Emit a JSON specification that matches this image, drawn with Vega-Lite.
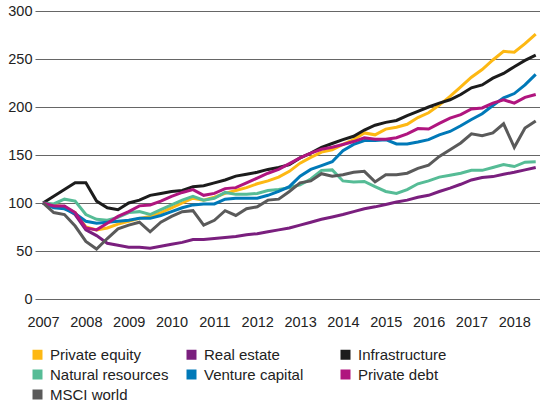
{
  "$schema": "https://vega.github.io/schema/vega-lite/v6.json",
  "width": 505,
  "height": 288,
  "autosize": {"type": "none"},
  "padding": {"left": 35, "top": 11, "right": 0, "bottom": 109},
  "background": "white",
  "config": {
    "view": {"stroke": null},
    "font": "Liberation Sans",
    "axis": {"labelFont": "Liberation Sans", "labelColor": "#222222", "labelFontSize": 14.5},
    "legend": {"labelFont": "Liberation Sans"}
  },
  "datasets": {
    "d": [
      {"t":2007,"s":"Private equity","v":100},{"t":2007.25,"s":"Private equity","v":98},{"t":2007.5,"s":"Private equity","v":96},{"t":2007.75,"s":"Private equity","v":90},
      {"t":2008,"s":"Private equity","v":75},{"t":2008.25,"s":"Private equity","v":72},{"t":2008.5,"s":"Private equity","v":74},{"t":2008.75,"s":"Private equity","v":78},
      {"t":2009,"s":"Private equity","v":81},{"t":2009.25,"s":"Private equity","v":84},{"t":2009.5,"s":"Private equity","v":86},{"t":2009.75,"s":"Private equity","v":90},
      {"t":2010,"s":"Private equity","v":95},{"t":2010.25,"s":"Private equity","v":100},{"t":2010.5,"s":"Private equity","v":105},{"t":2010.75,"s":"Private equity","v":103},
      {"t":2011,"s":"Private equity","v":106},{"t":2011.25,"s":"Private equity","v":110},{"t":2011.5,"s":"Private equity","v":113},{"t":2011.75,"s":"Private equity","v":116},
      {"t":2012,"s":"Private equity","v":120},{"t":2012.25,"s":"Private equity","v":123},{"t":2012.5,"s":"Private equity","v":127},{"t":2012.75,"s":"Private equity","v":133},
      {"t":2013,"s":"Private equity","v":141.5},{"t":2013.25,"s":"Private equity","v":147.5},{"t":2013.5,"s":"Private equity","v":153},{"t":2013.75,"s":"Private equity","v":155.5},
      {"t":2014,"s":"Private equity","v":161},{"t":2014.25,"s":"Private equity","v":166},{"t":2014.5,"s":"Private equity","v":173},{"t":2014.75,"s":"Private equity","v":171},
      {"t":2015,"s":"Private equity","v":177},{"t":2015.25,"s":"Private equity","v":179},{"t":2015.5,"s":"Private equity","v":182},{"t":2015.75,"s":"Private equity","v":189},
      {"t":2016,"s":"Private equity","v":194},{"t":2016.25,"s":"Private equity","v":202},{"t":2016.5,"s":"Private equity","v":211},{"t":2016.75,"s":"Private equity","v":221},
      {"t":2017,"s":"Private equity","v":231},{"t":2017.25,"s":"Private equity","v":239},{"t":2017.5,"s":"Private equity","v":249},{"t":2017.75,"s":"Private equity","v":258},
      {"t":2018,"s":"Private equity","v":257},{"t":2018.25,"s":"Private equity","v":266},{"t":2018.5,"s":"Private equity","v":276},

      {"t":2007,"s":"Real estate","v":100},{"t":2007.25,"s":"Real estate","v":96},{"t":2007.5,"s":"Real estate","v":95},{"t":2007.75,"s":"Real estate","v":88},
      {"t":2008,"s":"Real estate","v":72},{"t":2008.25,"s":"Real estate","v":66},{"t":2008.5,"s":"Real estate","v":58},{"t":2008.75,"s":"Real estate","v":56},
      {"t":2009,"s":"Real estate","v":54},{"t":2009.25,"s":"Real estate","v":54},{"t":2009.5,"s":"Real estate","v":53},{"t":2009.75,"s":"Real estate","v":55},
      {"t":2010,"s":"Real estate","v":57},{"t":2010.25,"s":"Real estate","v":59},{"t":2010.5,"s":"Real estate","v":62},{"t":2010.75,"s":"Real estate","v":62},
      {"t":2011,"s":"Real estate","v":63},{"t":2011.25,"s":"Real estate","v":64},{"t":2011.5,"s":"Real estate","v":65},{"t":2011.75,"s":"Real estate","v":67},
      {"t":2012,"s":"Real estate","v":68},{"t":2012.25,"s":"Real estate","v":70},{"t":2012.5,"s":"Real estate","v":72},{"t":2012.75,"s":"Real estate","v":74},
      {"t":2013,"s":"Real estate","v":77},{"t":2013.25,"s":"Real estate","v":80},{"t":2013.5,"s":"Real estate","v":83},{"t":2013.75,"s":"Real estate","v":85.5},
      {"t":2014,"s":"Real estate","v":88},{"t":2014.25,"s":"Real estate","v":91},{"t":2014.5,"s":"Real estate","v":94},{"t":2014.75,"s":"Real estate","v":96},
      {"t":2015,"s":"Real estate","v":98.5},{"t":2015.25,"s":"Real estate","v":101},{"t":2015.5,"s":"Real estate","v":103},{"t":2015.75,"s":"Real estate","v":106},
      {"t":2016,"s":"Real estate","v":108},{"t":2016.25,"s":"Real estate","v":112},{"t":2016.5,"s":"Real estate","v":115.5},{"t":2016.75,"s":"Real estate","v":119.5},
      {"t":2017,"s":"Real estate","v":124},{"t":2017.25,"s":"Real estate","v":126.5},{"t":2017.5,"s":"Real estate","v":127.5},{"t":2017.75,"s":"Real estate","v":130},
      {"t":2018,"s":"Real estate","v":132},{"t":2018.25,"s":"Real estate","v":134.5},{"t":2018.5,"s":"Real estate","v":137},

      {"t":2007,"s":"Infrastructure","v":100},{"t":2007.25,"s":"Infrastructure","v":107},{"t":2007.5,"s":"Infrastructure","v":114},{"t":2007.75,"s":"Infrastructure","v":121},
      {"t":2008,"s":"Infrastructure","v":121},{"t":2008.25,"s":"Infrastructure","v":102},{"t":2008.5,"s":"Infrastructure","v":95},{"t":2008.75,"s":"Infrastructure","v":93},
      {"t":2009,"s":"Infrastructure","v":100},{"t":2009.25,"s":"Infrastructure","v":103},{"t":2009.5,"s":"Infrastructure","v":108},{"t":2009.75,"s":"Infrastructure","v":110},
      {"t":2010,"s":"Infrastructure","v":112},{"t":2010.25,"s":"Infrastructure","v":113},{"t":2010.5,"s":"Infrastructure","v":117},{"t":2010.75,"s":"Infrastructure","v":118},
      {"t":2011,"s":"Infrastructure","v":121},{"t":2011.25,"s":"Infrastructure","v":124},{"t":2011.5,"s":"Infrastructure","v":128},{"t":2011.75,"s":"Infrastructure","v":130},
      {"t":2012,"s":"Infrastructure","v":132},{"t":2012.25,"s":"Infrastructure","v":135},{"t":2012.5,"s":"Infrastructure","v":137},{"t":2012.75,"s":"Infrastructure","v":140},
      {"t":2013,"s":"Infrastructure","v":147},{"t":2013.25,"s":"Infrastructure","v":152},{"t":2013.5,"s":"Infrastructure","v":158},{"t":2013.75,"s":"Infrastructure","v":162},
      {"t":2014,"s":"Infrastructure","v":166},{"t":2014.25,"s":"Infrastructure","v":169.5},{"t":2014.5,"s":"Infrastructure","v":176},{"t":2014.75,"s":"Infrastructure","v":181},
      {"t":2015,"s":"Infrastructure","v":184},{"t":2015.25,"s":"Infrastructure","v":186},{"t":2015.5,"s":"Infrastructure","v":191},{"t":2015.75,"s":"Infrastructure","v":195.5},
      {"t":2016,"s":"Infrastructure","v":200},{"t":2016.25,"s":"Infrastructure","v":204},{"t":2016.5,"s":"Infrastructure","v":207.5},{"t":2016.75,"s":"Infrastructure","v":213},
      {"t":2017,"s":"Infrastructure","v":220},{"t":2017.25,"s":"Infrastructure","v":223},{"t":2017.5,"s":"Infrastructure","v":230},{"t":2017.75,"s":"Infrastructure","v":235},
      {"t":2018,"s":"Infrastructure","v":242},{"t":2018.25,"s":"Infrastructure","v":248.5},{"t":2018.5,"s":"Infrastructure","v":254},

      {"t":2007,"s":"Natural resources","v":100},{"t":2007.25,"s":"Natural resources","v":99},{"t":2007.5,"s":"Natural resources","v":104},{"t":2007.75,"s":"Natural resources","v":102},
      {"t":2008,"s":"Natural resources","v":88},{"t":2008.25,"s":"Natural resources","v":83},{"t":2008.5,"s":"Natural resources","v":82},{"t":2008.75,"s":"Natural resources","v":85},
      {"t":2009,"s":"Natural resources","v":90},{"t":2009.25,"s":"Natural resources","v":91},{"t":2009.5,"s":"Natural resources","v":88},{"t":2009.75,"s":"Natural resources","v":93},
      {"t":2010,"s":"Natural resources","v":98},{"t":2010.25,"s":"Natural resources","v":103},{"t":2010.5,"s":"Natural resources","v":107},{"t":2010.75,"s":"Natural resources","v":103},
      {"t":2011,"s":"Natural resources","v":105},{"t":2011.25,"s":"Natural resources","v":111},{"t":2011.5,"s":"Natural resources","v":109},{"t":2011.75,"s":"Natural resources","v":109},
      {"t":2012,"s":"Natural resources","v":110},{"t":2012.25,"s":"Natural resources","v":113},{"t":2012.5,"s":"Natural resources","v":114},{"t":2012.75,"s":"Natural resources","v":116},
      {"t":2013,"s":"Natural resources","v":119},{"t":2013.25,"s":"Natural resources","v":125},{"t":2013.5,"s":"Natural resources","v":134},{"t":2013.75,"s":"Natural resources","v":134.5},
      {"t":2014,"s":"Natural resources","v":123},{"t":2014.25,"s":"Natural resources","v":122},{"t":2014.5,"s":"Natural resources","v":122.5},{"t":2014.75,"s":"Natural resources","v":117},
      {"t":2015,"s":"Natural resources","v":112},{"t":2015.25,"s":"Natural resources","v":110},{"t":2015.5,"s":"Natural resources","v":114},{"t":2015.75,"s":"Natural resources","v":120},
      {"t":2016,"s":"Natural resources","v":123},{"t":2016.25,"s":"Natural resources","v":127},{"t":2016.5,"s":"Natural resources","v":129},{"t":2016.75,"s":"Natural resources","v":131},
      {"t":2017,"s":"Natural resources","v":134},{"t":2017.25,"s":"Natural resources","v":134},{"t":2017.5,"s":"Natural resources","v":137},{"t":2017.75,"s":"Natural resources","v":140},
      {"t":2018,"s":"Natural resources","v":138},{"t":2018.25,"s":"Natural resources","v":142.5},{"t":2018.5,"s":"Natural resources","v":143},

      {"t":2007,"s":"Venture capital","v":100},{"t":2007.25,"s":"Venture capital","v":95},{"t":2007.5,"s":"Venture capital","v":94},{"t":2007.75,"s":"Venture capital","v":89},
      {"t":2008,"s":"Venture capital","v":81},{"t":2008.25,"s":"Venture capital","v":79},{"t":2008.5,"s":"Venture capital","v":80},{"t":2008.75,"s":"Venture capital","v":81},
      {"t":2009,"s":"Venture capital","v":82},{"t":2009.25,"s":"Venture capital","v":84},{"t":2009.5,"s":"Venture capital","v":84},{"t":2009.75,"s":"Venture capital","v":87},
      {"t":2010,"s":"Venture capital","v":91},{"t":2010.25,"s":"Venture capital","v":95},{"t":2010.5,"s":"Venture capital","v":98},{"t":2010.75,"s":"Venture capital","v":99},
      {"t":2011,"s":"Venture capital","v":99},{"t":2011.25,"s":"Venture capital","v":104},{"t":2011.5,"s":"Venture capital","v":105},{"t":2011.75,"s":"Venture capital","v":105},
      {"t":2012,"s":"Venture capital","v":105},{"t":2012.25,"s":"Venture capital","v":108},{"t":2012.5,"s":"Venture capital","v":112},{"t":2012.75,"s":"Venture capital","v":117},
      {"t":2013,"s":"Venture capital","v":128},{"t":2013.25,"s":"Venture capital","v":135},{"t":2013.5,"s":"Venture capital","v":139},{"t":2013.75,"s":"Venture capital","v":143},
      {"t":2014,"s":"Venture capital","v":154.5},{"t":2014.25,"s":"Venture capital","v":161},{"t":2014.5,"s":"Venture capital","v":165},{"t":2014.75,"s":"Venture capital","v":165},
      {"t":2015,"s":"Venture capital","v":166},{"t":2015.25,"s":"Venture capital","v":161.5},{"t":2015.5,"s":"Venture capital","v":161.5},{"t":2015.75,"s":"Venture capital","v":163.5},
      {"t":2016,"s":"Venture capital","v":166},{"t":2016.25,"s":"Venture capital","v":171},{"t":2016.5,"s":"Venture capital","v":174.5},{"t":2016.75,"s":"Venture capital","v":180.5},
      {"t":2017,"s":"Venture capital","v":187},{"t":2017.25,"s":"Venture capital","v":193},{"t":2017.5,"s":"Venture capital","v":201.5},{"t":2017.75,"s":"Venture capital","v":209.5},
      {"t":2018,"s":"Venture capital","v":214},{"t":2018.25,"s":"Venture capital","v":223},{"t":2018.5,"s":"Venture capital","v":234},

      {"t":2007,"s":"Private debt","v":100},{"t":2007.25,"s":"Private debt","v":97},{"t":2007.5,"s":"Private debt","v":97},{"t":2007.75,"s":"Private debt","v":90},
      {"t":2008,"s":"Private debt","v":74},{"t":2008.25,"s":"Private debt","v":72},{"t":2008.5,"s":"Private debt","v":79},{"t":2008.75,"s":"Private debt","v":86},
      {"t":2009,"s":"Private debt","v":91},{"t":2009.25,"s":"Private debt","v":97},{"t":2009.5,"s":"Private debt","v":98},{"t":2009.75,"s":"Private debt","v":102},
      {"t":2010,"s":"Private debt","v":107},{"t":2010.25,"s":"Private debt","v":111},{"t":2010.5,"s":"Private debt","v":114},{"t":2010.75,"s":"Private debt","v":108},
      {"t":2011,"s":"Private debt","v":110},{"t":2011.25,"s":"Private debt","v":115},{"t":2011.5,"s":"Private debt","v":116},{"t":2011.75,"s":"Private debt","v":121},
      {"t":2012,"s":"Private debt","v":126},{"t":2012.25,"s":"Private debt","v":131},{"t":2012.5,"s":"Private debt","v":135},{"t":2012.75,"s":"Private debt","v":141},
      {"t":2013,"s":"Private debt","v":147},{"t":2013.25,"s":"Private debt","v":152},{"t":2013.5,"s":"Private debt","v":156},{"t":2013.75,"s":"Private debt","v":158},
      {"t":2014,"s":"Private debt","v":161},{"t":2014.25,"s":"Private debt","v":164},{"t":2014.5,"s":"Private debt","v":168},{"t":2014.75,"s":"Private debt","v":166.5},
      {"t":2015,"s":"Private debt","v":166.5},{"t":2015.25,"s":"Private debt","v":168},{"t":2015.5,"s":"Private debt","v":172},{"t":2015.75,"s":"Private debt","v":177.5},
      {"t":2016,"s":"Private debt","v":177},{"t":2016.25,"s":"Private debt","v":183},{"t":2016.5,"s":"Private debt","v":188.5},{"t":2016.75,"s":"Private debt","v":192},
      {"t":2017,"s":"Private debt","v":198},{"t":2017.25,"s":"Private debt","v":199},{"t":2017.5,"s":"Private debt","v":204},{"t":2017.75,"s":"Private debt","v":207.5},
      {"t":2018,"s":"Private debt","v":204},{"t":2018.25,"s":"Private debt","v":210},{"t":2018.5,"s":"Private debt","v":213},

      {"t":2007,"s":"MSCI world","v":100},{"t":2007.25,"s":"MSCI world","v":90},{"t":2007.5,"s":"MSCI world","v":88},{"t":2007.75,"s":"MSCI world","v":76},
      {"t":2008,"s":"MSCI world","v":60},{"t":2008.25,"s":"MSCI world","v":52},{"t":2008.5,"s":"MSCI world","v":63},{"t":2008.75,"s":"MSCI world","v":73},
      {"t":2009,"s":"MSCI world","v":77},{"t":2009.25,"s":"MSCI world","v":80},{"t":2009.5,"s":"MSCI world","v":70},{"t":2009.75,"s":"MSCI world","v":80},
      {"t":2010,"s":"MSCI world","v":86},{"t":2010.25,"s":"MSCI world","v":91},{"t":2010.5,"s":"MSCI world","v":92},{"t":2010.75,"s":"MSCI world","v":77},
      {"t":2011,"s":"MSCI world","v":82},{"t":2011.25,"s":"MSCI world","v":92},{"t":2011.5,"s":"MSCI world","v":87},{"t":2011.75,"s":"MSCI world","v":94},
      {"t":2012,"s":"MSCI world","v":96},{"t":2012.25,"s":"MSCI world","v":103},{"t":2012.5,"s":"MSCI world","v":104},{"t":2012.75,"s":"MSCI world","v":112},
      {"t":2013,"s":"MSCI world","v":121},{"t":2013.25,"s":"MSCI world","v":123},{"t":2013.5,"s":"MSCI world","v":130.5},{"t":2013.75,"s":"MSCI world","v":128},
      {"t":2014,"s":"MSCI world","v":129.5},{"t":2014.25,"s":"MSCI world","v":132},{"t":2014.5,"s":"MSCI world","v":133},{"t":2014.75,"s":"MSCI world","v":122},
      {"t":2015,"s":"MSCI world","v":129.5},{"t":2015.25,"s":"MSCI world","v":129.5},{"t":2015.5,"s":"MSCI world","v":131},{"t":2015.75,"s":"MSCI world","v":136},
      {"t":2016,"s":"MSCI world","v":139.5},{"t":2016.25,"s":"MSCI world","v":148.5},{"t":2016.5,"s":"MSCI world","v":155.5},{"t":2016.75,"s":"MSCI world","v":162.5},
      {"t":2017,"s":"MSCI world","v":172},{"t":2017.25,"s":"MSCI world","v":170},{"t":2017.5,"s":"MSCI world","v":173},{"t":2017.75,"s":"MSCI world","v":182.5},
      {"t":2018,"s":"MSCI world","v":158},{"t":2018.25,"s":"MSCI world","v":178},{"t":2018.5,"s":"MSCI world","v":185.5}
    ]
  },
  "data": {"name": "d"},
  "mark": {"type": "line", "strokeWidth": 3, "strokeJoin": "miter", "strokeCap": "butt"},
  "encoding": {
    "x": {
      "field": "t", "type": "quantitative",
      "scale": {"domain": [2006.813, 2018.6], "nice": false, "zero": false},
      "axis": {
        "title": null, "values": [2007,2008,2009,2010,2011,2012,2013,2014,2015,2016,2017,2018],
        "format": "d", "grid": false, "domain": false, "ticks": false, "tickSize": 0,
        "labelPadding": 16, "labelDx": 4, "labelFlush": false, "labelOverlap": false
      }
    },
    "y": {
      "field": "v", "type": "quantitative",
      "scale": {"domain": [0, 300], "nice": false},
      "axis": {
        "title": null, "values": [0,50,100,150,200,250,300],
        "grid": true, "gridColor": "#666666", "gridWidth": 1, "gridOpacity": 1,
        "domain": false, "ticks": false, "tickSize": 0, "labelPadding": 3
      }
    },
    "color": {
      "field": "s", "type": "nominal",
      "scale": {
        "domain": ["Private equity","Real estate","Infrastructure","Natural resources","Venture capital","Private debt","MSCI world"],
        "range": ["#FDB813","#7A1F7E","#1C1C1C","#56BC96","#0079B8","#B0157F","#5A5A5A"]
      },
      "legend": {
        "title": null, "orient": "none", "legendX": -5, "legendY": 336,
        "direction": "horizontal", "columns": 3, "gridAlign": "all",
        "columnPadding": 15, "rowPadding": 4, "padding": 0, "offset": 0,
        "symbolType": "square", "symbolSize": 100, "symbolStrokeWidth": 0,
        "labelFontSize": 15, "labelColor": "#222222", "labelOffset": 5, "labelLimit": 300,
        "encode": {"symbols": {"update": {"fill": {"scale": "color", "field": "value"}, "strokeWidth": {"value": 0}, "opacity": {"value": 1}}}}
      }
    }
  }
}
